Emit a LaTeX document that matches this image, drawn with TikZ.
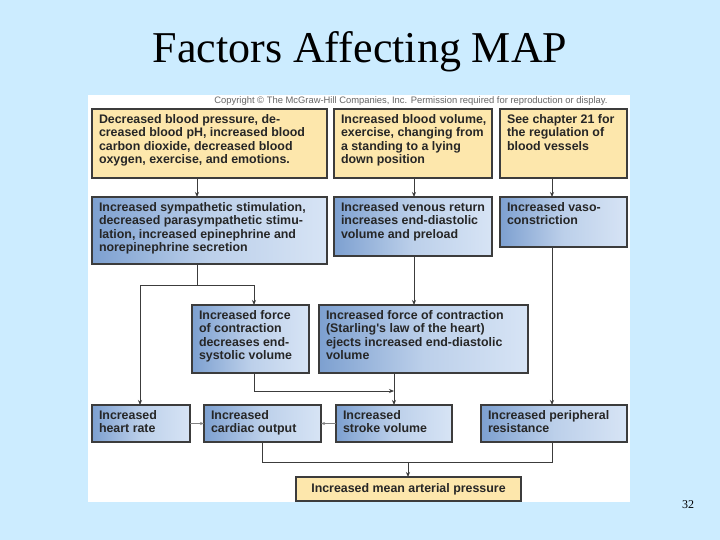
\documentclass[tikz,border=0pt]{standalone}
\usepackage{fontspec}
\setmainfont{Liberation Serif}
\newfontfamily\boxfont{Liberation Sans}
\usetikzlibrary{arrows.meta}
\definecolor{bg}{RGB}{204,236,255}
\definecolor{tan}{RGB}{253,231,172}
\definecolor{bdark}{RGB}{125,160,208}
\definecolor{blight}{RGB}{215,228,245}
\definecolor{edge}{RGB}{60,60,60}
\tikzset{
 base/.style={draw=edge,line width=1.2pt,anchor=north west,inner sep=0pt,outer sep=0pt,font=\boxfont\bfseries\fontsize{12.4}{13.6}\selectfont,text=black!85},
 tanbox/.style={base,fill=tan},
 bluebox/.style={base,left color=bdark,right color=blight,middle color=blight!70!bdark},
 conn/.style={draw=edge,line width=1pt,-{Stealth[length=5pt,width=4pt]}},
 line/.style={draw=edge,line width=1pt},
 thin/.style={draw=gray,line width=0.6pt,-{Stealth[length=4pt,width=3pt]}}
}
\newcommand{\bx}[7]{\node[#6,minimum width=#4pt,minimum height=#5pt] (#1) at (#2,#3) {\parbox[c][\dimexpr#5pt-4pt\relax][t]{\dimexpr#4pt-14pt\relax}{\vspace*{2.5pt}\begin{tabular}[t]{@{}l@{}}#7\end{tabular}}};}
\begin{document}
\begin{tikzpicture}[x=1pt,y=-1pt]
\fill[bg] (0,0) rectangle (720,540);
\useasboundingbox (0,0) rectangle (720,540);
\node (title) at (360,52) {\fontsize{44}{48}\selectfont Factors Affecting MAP};
\node (page) at (688,505) {\fontsize{12}{14}\selectfont 32};
\fill[white] (88,95) rectangle (630,502);
\node (copy) at (411,101) {\boxfont\fontsize{9.4}{10}\selectfont\color{black!60}Copyright © The McGraw-Hill Companies, Inc. Permission required for reproduction or display.};
\bx{A}{92}{109}{235}{69}{tanbox}{Decreased blood pressure, de-\\creased blood pH, increased blood\\carbon dioxide, decreased blood\\oxygen, exercise, and emotions.}
\bx{B}{334}{109}{158}{69}{tanbox}{Increased blood volume,\\exercise, changing from\\a standing to a lying\\down position}
\bx{C}{500}{109}{127}{69}{tanbox}{See chapter 21 for\\the regulation of\\blood vessels}
\bx{D}{92}{197}{235}{67}{bluebox}{Increased sympathetic stimulation,\\decreased parasympathetic stimu-\\lation, increased epinephrine and\\norepinephrine secretion}
\bx{E}{334}{197}{158}{59}{bluebox}{Increased venous return\\increases end-diastolic\\volume and preload}
\bx{F}{500}{197}{127}{50}{bluebox}{Increased vaso-\\constriction}
\bx{G}{192}{305}{117}{68}{bluebox}{Increased force\\of contraction\\decreases end-\\systolic volume}
\bx{H}{319}{305}{209}{68}{bluebox}{Increased force of contraction\\(Starling's law of the heart)\\ejects increased end-diastolic\\volume}
\bx{I}{92}{405}{98}{37}{bluebox}{Increased\\heart rate}
\bx{J}{204}{405}{117}{37}{bluebox}{Increased\\cardiac output}
\bx{K}{336}{405}{116}{37}{bluebox}{Increased\\stroke volume}
\bx{L}{481}{405}{146}{37}{bluebox}{Increased peripheral\\resistance}
\node[tanbox,minimum width=225pt,minimum height=24pt,anchor=north west] (M) at (296,477) {Increased mean arterial pressure};
% connectors
\coordinate (a1) at (197,0); \coordinate (b1) at (414,0); \coordinate (c1) at (552,0);
\draw[conn] (A.south -| a1) -- (D.north -| a1);
\draw[conn] (B.south -| b1) -- (E.north -| b1);
\draw[conn] (C.south -| c1) -- (F.north -| c1);
\coordinate (br) at (197,285);
\coordinate (hr) at (140,285);
\coordinate (gs) at (254,285);
\draw[line] (D.south -| a1) -- (br);
\draw[conn] (hr) -- (gs) -- (G.north -| gs);
\draw[conn] (gs) -- (hr) -- (I.north -| hr);
\draw[conn] (E.south -| b1) -- (H.north -| b1);
\coordinate (g2) at (254,391); \coordinate (h2) at (394,391);
\draw[conn] (G.south -| g2) -- (g2) -- (h2);
\draw[conn] (H.south -| h2) -- (K.north -| h2);
\draw[conn] (F.south -| c1) -- (L.north -| c1);
\draw[thin] (I.east) -- (J.west);
\draw[thin] (K.west) -- (J.east);
\coordinate (j3) at (262,462); \coordinate (l3) at (552,462); \coordinate (m3) at (408,462);
\draw[line] (J.south -| j3) -- (j3) -- (l3) -- (L.south -| l3);
\draw[conn] (m3) -- (M.north -| m3);
\end{tikzpicture}
\end{document}
